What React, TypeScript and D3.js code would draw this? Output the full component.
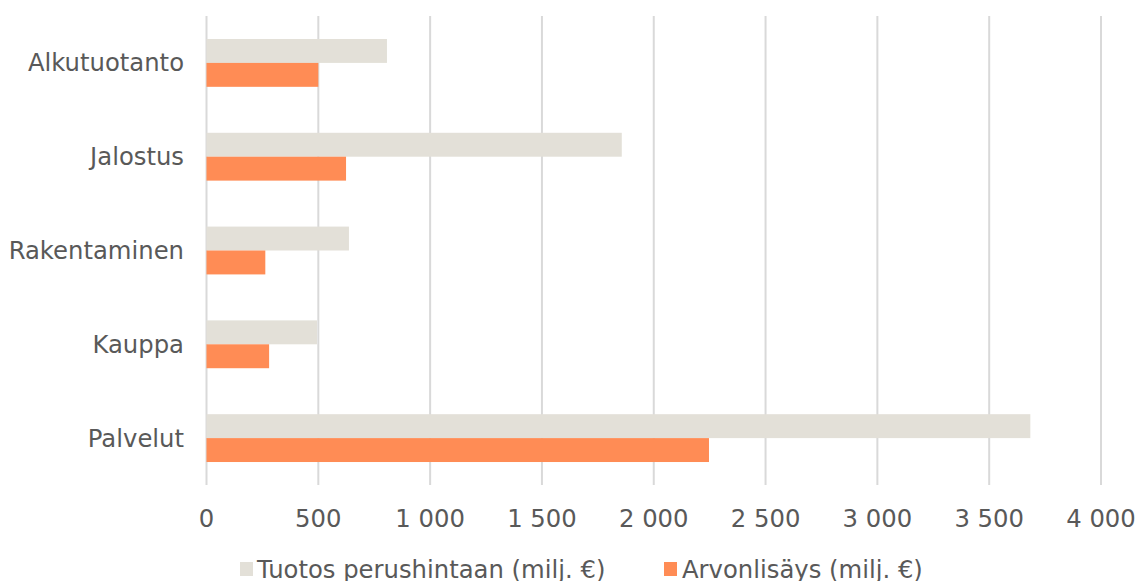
import React from "react";
import * as d3 from "d3";

const categories = ["Alkutuotanto", "Jalostus", "Rakentaminen", "Kauppa", "Palvelut"];
const tuotos = [807, 1857, 637, 494, 3684];
const arvonlisays = [500, 624, 263, 280, 2247];
const ticks = [0, 500, 1000, 1500, 2000, 2500, 3000, 3500, 4000];
const seriesNames = ["Tuotos perushintaan (milj. €)", "Arvonlisäys (milj. €)"];
const colors = ["#e3e0d8", "#ff8c55"];

const W = 1138;
const H = 581;
const margin = { top: 16, right: 37, bottom: 96, left: 206.5 };

const fmt = (v: number) => d3.format(",")(v).replace(/,/g, " ");

export default function App() {
  const x = d3.scaleLinear().domain([0, 4000]).range([margin.left, W - margin.right]);
  const y = d3.scaleBand().domain(categories).range([margin.top, H - margin.bottom]).paddingInner(0.49).paddingOuter(0.245);
  const bh = y.bandwidth() / 2;
  const font = "Verdana, 'DejaVu Sans', sans-serif";
  const fs = 24.3;

  return (
    <svg width={W} height={H} style={{ position: "absolute", left: 0, top: 0, background: "#fff" }}>
      {ticks.map((t) => (
        <line key={t} x1={x(t)} x2={x(t)} y1={margin.top} y2={H - margin.bottom} stroke="#d9d9d9" strokeWidth={2} />
      ))}
      {categories.map((c, i) => (
        <g key={c}>
          <rect x={x(0)} y={y(c)!} width={x(tuotos[i]) - x(0)} height={bh} fill={colors[0]} />
          <rect x={x(0)} y={y(c)! + bh} width={x(arvonlisays[i]) - x(0)} height={bh} fill={colors[1]} />
          <text x={184} y={y(c)! + bh} dy="0.35em" textAnchor="end" fontFamily={font} fontSize={fs} fill="#595959">
            {c}
          </text>
        </g>
      ))}
      {ticks.map((t) => (
        <text key={t} x={x(t)} y={518} dy="0.35em" textAnchor="middle" fontFamily={font} fontSize={fs} fill="#595959">
          {fmt(t)}
        </text>
      ))}
      <g fontFamily={font} fontSize={fs} fill="#595959">
        <rect x={240} y={562} width={13} height={14} fill={colors[0]} />
        <text x={257} y={578}>{seriesNames[0]}</text>
        <rect x={664} y={562} width={13} height={14} fill={colors[1]} />
        <text x={682} y={578}>{seriesNames[1]}</text>
      </g>
    </svg>
  );
}
